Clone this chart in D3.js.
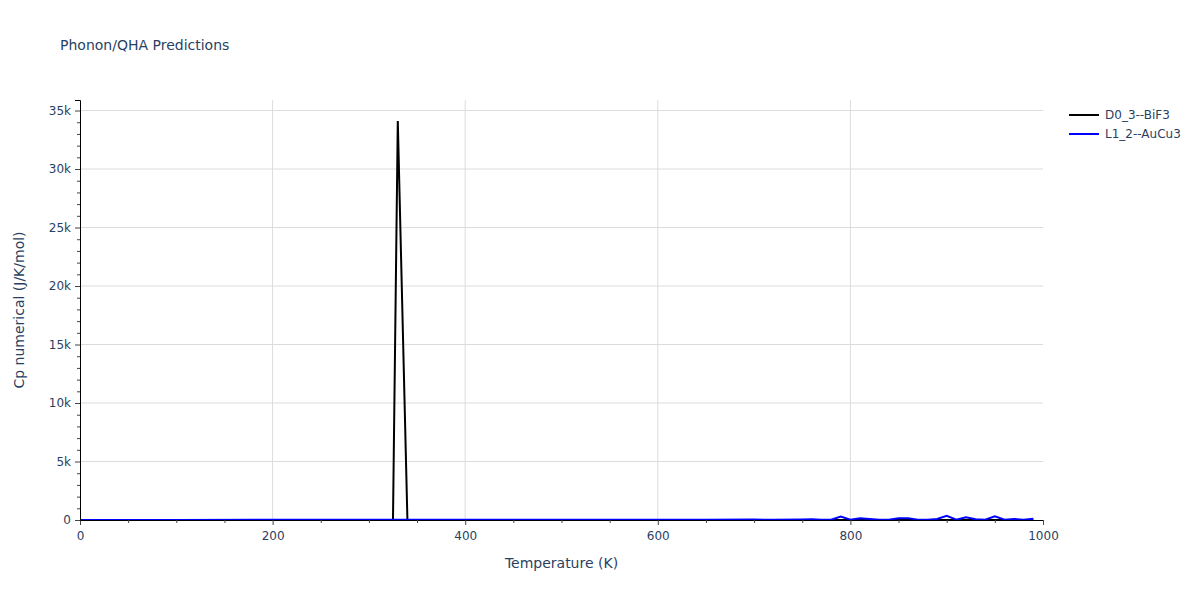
<!DOCTYPE html>
<html><head><meta charset="utf-8">
<script src="https://cdn.jsdelivr.net/npm/d3@7"></script>
<style>body{margin:0;background:#fff}svg{font-family:"DejaVu Sans",sans-serif}</style>
</head><body><svg id="c" width="1200" height="600"></svg>
<script>
const title = "Phonon/QHA Predictions";
const xLabel = "Temperature (K)";
const yLabel = "Cp numerical (J/K/mol)";
const seriesNames = ["D0_3--BiF3", "L1_2--AuCu3"];
const seriesColors = ["#000000", "#0000ff"];
const xTicks = [0, 200, 400, 600, 800, 1000];
const yTicks = [0, 5000, 10000, 15000, 20000, 25000, 30000, 35000];
const yTickLabels = ["0", "5k", "10k", "15k", "20k", "25k", "30k", "35k"];

const bifT = [0, 100, 200, 300, 320, 325, 330, 340, 400, 500, 600, 700, 800, 900, 990];
const bifCp = [0, 0, 0, 0, 0, 0, 34100, 0, 0, 0, 0, 0, 0, 0, 0];

const aucuT = [0, 100, 200, 300, 400, 500, 600, 620, 650, 700, 720, 750, 760, 770, 780, 790, 800, 810, 820, 830, 840, 850, 860, 870, 880, 890, 900, 910, 920, 930, 940, 950, 960, 970, 980, 990];
const aucuCp = [0, 10, 15, 20, 20, 20, 15, 20, 30, 40, 20, 50, 60, 30, 20, 300, 20, 150, 80, 20, 20, 150, 160, 20, 20, 80, 350, 20, 240, 60, 20, 320, 20, 80, 20, 110];

const svg = d3.select("#c");
const m = {l: 80, r: 157, t: 100, b: 80};
const W = 1200, H = 600;
const x = d3.scaleLinear().domain([0, 1000]).range([m.l, W - m.r]);
const y = d3.scaleLinear().domain([0, 35900]).range([H - m.b, m.t]);
const txt = "#2a3f5f";

// grid
svg.append("g").selectAll("line").data(xTicks.filter(d => d > 0 && d < 1000)).join("line")
  .attr("x1", d => x(d)).attr("x2", d => x(d)).attr("y1", m.t).attr("y2", H - m.b)
  .attr("stroke", "#dcdcdc").attr("stroke-width", 1);
svg.append("g").selectAll("line").data(yTicks.filter(d => d > 0)).join("line")
  .attr("x1", m.l).attr("x2", W - m.r).attr("y1", d => y(d)).attr("y2", d => y(d))
  .attr("stroke", "#dcdcdc").attr("stroke-width", 1);

// lines
const line = d3.line().x(d => x(d[0])).y(d => y(d[1]));
svg.append("path").datum(bifT.map((t, i) => [t, bifCp[i]]))
  .attr("d", line).attr("fill", "none").attr("stroke", seriesColors[0]).attr("stroke-width", 2);
svg.append("path").datum(aucuT.map((t, i) => [t, aucuCp[i]]))
  .attr("d", line).attr("fill", "none").attr("stroke", seriesColors[1]).attr("stroke-width", 2);

// axes
const xAxis = d3.axisBottom(x).tickValues(xTicks).tickSize(5).tickPadding(6).tickFormat(d3.format("d"));
const gx = svg.append("g").attr("transform", `translate(0,${H - m.b})`).call(xAxis);
const xMinor = d3.axisBottom(x).tickValues(d3.range(0, 1001, 50).filter(d => d % 200 !== 0)).tickSize(3).tickFormat("");
svg.append("g").attr("transform", `translate(0,${H - m.b})`).call(xMinor).select(".domain").remove();
const yAxis = d3.axisLeft(y).tickValues(yTicks).tickSize(5).tickPadding(4).tickFormat((d, i) => yTickLabels[i]);
const gy = svg.append("g").attr("transform", `translate(${m.l},0)`).call(yAxis);
const yMinor = d3.axisLeft(y).tickValues(d3.range(0, 35001, 1000).filter(d => d % 5000 !== 0)).tickSize(3).tickFormat("");
svg.append("g").attr("transform", `translate(${m.l},0)`).call(yMinor).select(".domain").remove();
[gx, gy].forEach(g => {
  g.selectAll("text").attr("fill", txt).style("font-size", "12px").style("font-family", "'DejaVu Sans', sans-serif");
  g.select(".domain").attr("stroke", "#000").attr("stroke-width", 1);
});
svg.selectAll(".tick line").attr("stroke", "#444");

// titles
svg.append("text").attr("x", 60).attr("y", 50).text(title).attr("fill", txt).style("font-size", "14px");
svg.append("text").attr("x", (m.l + W - m.r) / 2).attr("y", 568).attr("text-anchor", "middle")
  .text(xLabel).attr("fill", txt).style("font-size", "14px");
svg.append("text").attr("transform", `translate(24,${(m.t + H - m.b) / 2}) rotate(-90)`).attr("text-anchor", "middle")
  .text(yLabel).attr("fill", txt).style("font-size", "14px");

// legend
const lg = svg.append("g").selectAll("g").data(seriesNames).join("g")
  .attr("transform", (d, i) => `translate(1069,${115 + i * 19})`);
lg.append("line").attr("x1", 0).attr("x2", 30).attr("y1", 0).attr("y2", 0)
  .attr("stroke", (d, i) => seriesColors[i]).attr("stroke-width", 2);
lg.append("text").attr("x", 36).attr("y", 4).text(d => d).attr("fill", txt).style("font-size", "12px");
</script></body></html>
